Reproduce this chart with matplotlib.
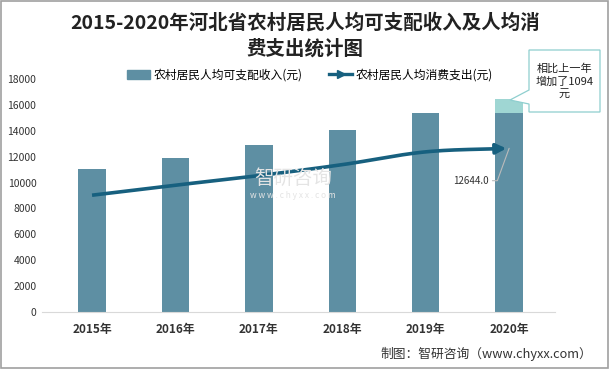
import matplotlib
matplotlib.use("Agg")
import matplotlib.pyplot as plt
import numpy as np
from matplotlib.patches import Rectangle, Polygon
from matplotlib.lines import Line2D

plt.rcParams['font.family'] = ['Noto Sans CJK SC', 'DejaVu Sans']

years = ['2015年', '2016年', '2017年', '2018年', '2019年', '2020年']
income = [11051, 11919, 12881, 14031, 15373, 16467]
consumption = [9023, 9798, 10536, 11383, 12372, 12644]
increase_2020 = 1094
yticks = [0, 2000, 4000, 6000, 8000, 10000, 12000, 14000, 16000, 18000]

bar_color = '#5e8fa3'
light_color = '#9fd6d3'
line_color = '#17607f'

fig = plt.figure(figsize=(6.1, 3.69), dpi=100)
fig.patches.append(Rectangle((0.002, 0.003), 0.995, 0.994, transform=fig.transFigure,
                             fill=False, edgecolor='#a0a0a0', linewidth=1.2))
ax = fig.add_axes([42/610, 1-312/369, (555-42)/610, (312-79)/369])

x = np.arange(len(years))
base = [v for v in income]
base[-1] = income[-1] - increase_2020
ax.bar(x, base, width=0.33, color=bar_color, zorder=2)
ax.bar(x[-1], increase_2020, bottom=base[-1], width=0.33, color=light_color, zorder=2)

# smooth curve (Catmull-Rom) through the points
def catmull(xs, ys, n=30):
    px = np.concatenate([[2*xs[0]-xs[1]], xs, [2*xs[-1]-xs[-2]]])
    py = np.concatenate([[2*ys[0]-ys[1]], ys, [2*ys[-1]-ys[-2]]])
    ox, oy = [], []
    for i in range(1, len(px)-2):
        t = np.linspace(0, 1, n)
        for arr, out in ((px, ox), (py, oy)):
            p0, p1, p2, p3 = arr[i-1], arr[i], arr[i+1], arr[i+2]
            out.extend(0.5*((2*p1) + (-p0+p2)*t + (2*p0-5*p1+4*p2-p3)*t**2 + (-p0+3*p1-3*p2+p3)*t**3))
    return np.array(ox), np.array(oy)

cx, cy = catmull(x.astype(float), np.array(consumption, float))
ax.plot(cx[:-4], cy[:-4], color=line_color, linewidth=2.6, zorder=3, solid_capstyle='butt')
ax.annotate('', xy=(cx[-1], cy[-1]), xytext=(cx[-6], cy[-6]),
            arrowprops=dict(arrowstyle='-|>,head_length=0.6,head_width=0.3', color=line_color, lw=2.6),
            zorder=4)

# data label for last point
ax.annotate(f'{consumption[-1]:.1f}', xy=(x[-1], consumption[-1]), xytext=(x[-1]-0.25, consumption[-1]-2500),
            fontsize=7, color='#333333', ha='right', va='center',
            arrowprops=dict(arrowstyle='-', color='#bbbbbb', lw=0.8,
                            connectionstyle='angle,angleA=0,angleB=70,rad=0', shrinkA=1, shrinkB=0))

ax.set_xlim(-0.6, 5.55)
ax.set_ylim(0, 18000)
ax.set_yticks(yticks)
ax.set_yticklabels([str(v) for v in yticks], fontsize=7.5, color='#333333')
ax.set_xticks(x)
ax.set_xticklabels(years, fontsize=8.5, fontweight='bold', color='#333333')
ax.tick_params(axis='both', length=0, pad=8)
ax.tick_params(axis='y', pad=4)
for s in ['top', 'right', 'left']:
    ax.spines[s].set_visible(False)
ax.spines['bottom'].set_color('#d9d9d9')

# legend
handles = [Rectangle((0, 0), 1, 1, color=bar_color),
           Line2D([0], [0], color=line_color, lw=2.4, marker='>', markersize=6, markevery=[1])]
leg = fig.legend(handles, ['农村居民人均可支配收入(元)', '农村居民人均消费支出(元)'],
                 loc='center', bbox_to_anchor=(310/610, 1-75/369), ncol=2, frameon=False,
                 fontsize=8.5, handlelength=2.0, columnspacing=2.2, handletextpad=0.3)

# title
fig.text(0.5, 1-23/369, '2015-2020年河北省农村居民人均可支配收入及人均消', ha='center', va='center',
         fontsize=14, fontweight='bold', color='#222222')
fig.text(0.5, 1-49/369, '费支出统计图', ha='center', va='center',
         fontsize=14, fontweight='bold', color='#222222')

# callout
bx0, by0, bx1, by1 = 529/610, 1-112/369, 600/610, 1-50/369
poly = Polygon([(bx0, by0), (bx0, 1-104/369), (510/610, 1-100/369), (bx0, 1-90/369), (bx0, by1),
                (bx1, by1), (bx1, by0)],
               closed=True, transform=fig.transFigure, facecolor='white', edgecolor='#8fcfcf', lw=0.9)
fig.patches.append(poly)
fig.text((bx0+bx1)/2, (by0+by1)/2, '相比上一年\n增加了1094\n元', ha='center', va='center',
         fontsize=8, color='#222222', linespacing=1.25)

# watermark
fig.text(0.48, 1-178/369, '智研咨询', ha='center', va='center', fontsize=14, color='#e4e4e4', zorder=0)
fig.text(0.48, 1-196/369, 'w w w . c h y x x . c o m', ha='center', va='center', fontsize=6, color='#e4e4e4', zorder=0)

# source
fig.text(380/610, 1-354/369, '制图：智研咨询（www.chyxx.com）', ha='left', va='center',
         fontsize=9.2, color='#333333')

fig.savefig('out.png', dpi=100)
